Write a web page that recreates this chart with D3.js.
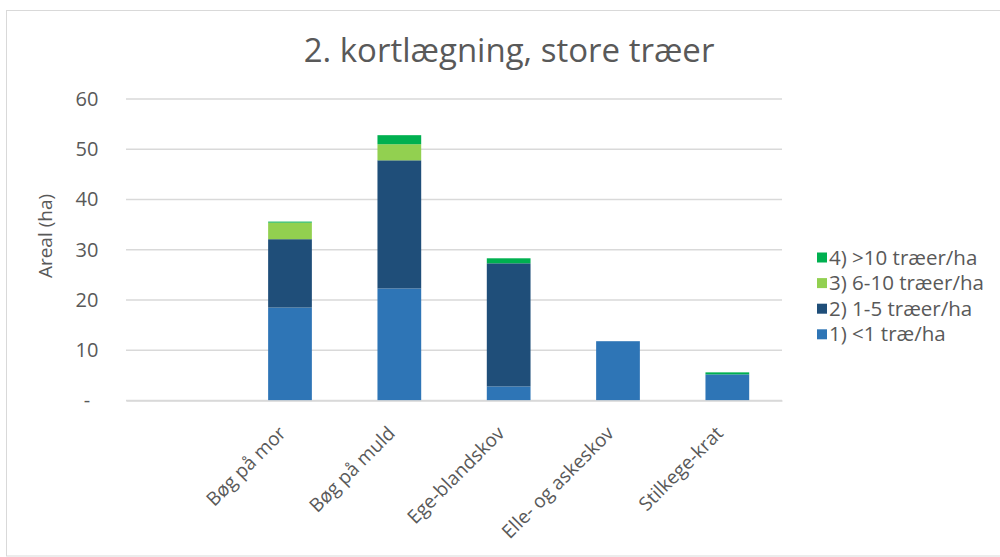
<!DOCTYPE html>
<html lang="da">
<head>
<meta charset="utf-8">
<title>2. kortlægning, store træer</title>
<script src="https://cdn.jsdelivr.net/npm/d3@7"></script>
<style>
  body { margin: 0; background: #fff; }
  text { font-family: "Open Sans", sans-serif; fill: #595959; }
</style>
</head>
<body>
<script>
// data
var categories = ["", "Bøg på mor", "Bøg på muld", "Ege-blandskov", "Elle- og askeskov", "Stilkege-krat"];
var seriesNames = ["1) <1 træ/ha", "2) 1-5 træer/ha", "3) 6-10 træer/ha", "4) >10 træer/ha"];
var s1 = [0, 18.5, 22.3, 2.8, 11.8, 5.2];
var s2 = [0, 13.6, 25.5, 24.5, 0, 0];
var s3 = [0, 3.3, 3.2, 0, 0, 0];
var s4 = [0, 0.2, 1.8, 1.0, 0, 0.4];
var yTicks = [0, 10, 20, 30, 40, 50, 60];
var colors = ["#2e75b6", "#1f4e79", "#92d050", "#00b050"];

var W = 1000, H = 557;
var svg = d3.select("body").append("svg")
    .attr("width", W)
    .attr("height", H);

// chart border
svg.append("rect")
   .attr("x", 6.5).attr("y", 10.5)
   .attr("width", 1000).attr("height", 545.5)
   .attr("fill", "none")
   .attr("stroke", "#d9d9d9")
   .attr("stroke-width", 1);

var pLeft = 126, pRight = 782, pTop = 99, pBottom = 400.5;

var x = d3.scaleBand().domain(d3.range(categories.length))
    .range([pLeft, pRight])
    .paddingInner(0.6).paddingOuter(0.3);
var y = d3.scaleLinear().domain([0, 60]).range([pBottom, pTop]);

// gridlines
svg.append("g").selectAll("line")
   .data(yTicks)
   .enter().append("line")
   .attr("x1", pLeft).attr("x2", pRight)
   .attr("y1", function(d) { return y(d); })
   .attr("y2", function(d) { return y(d); })
   .attr("stroke", "#d9d9d9")
   .attr("stroke-width", 1.5);

// y axis labels
var yAxis = d3.axisLeft(y).tickValues(yTicks).tickSize(0).tickPadding(0)
    .tickFormat(function(d) { return d === 0 ? "-" : d; });
var gy = svg.append("g").attr("transform", "translate(" + pLeft + ",0)").call(yAxis);
gy.select(".domain").remove();
gy.selectAll("text")
  .attr("font-size", 20)
  .attr("font-family", "Open Sans, sans-serif")
  .attr("fill", "#595959")
  .attr("text-anchor", "middle")
  .attr("x", -(pLeft - 87));

// stacked bars
var rows = categories.map(function(c, i) {
  return { i: i, a: s1[i], b: s2[i], c: s3[i], d: s4[i] };
});
var stack = d3.stack().keys(["a", "b", "c", "d"]);
var layers = stack(rows);

svg.append("g").selectAll("g")
   .data(layers)
   .enter().append("g")
   .attr("fill", function(d, k) { return colors[k]; })
   .selectAll("rect")
   .data(function(d) { return d; })
   .enter().append("rect")
   .attr("x", function(d) { return x(d.data.i); })
   .attr("width", x.bandwidth())
   .attr("y", function(d) { return y(d[1]); })
   .attr("height", function(d) { return y(d[0]) - y(d[1]); });

// x axis
var xAxis = d3.axisBottom(x).tickSize(0).tickPadding(0)
    .tickFormat(function(i) { return categories[i]; });
var gx = svg.append("g").attr("transform", "translate(0," + pBottom + ")").call(xAxis);
gx.select(".domain").attr("stroke", "#d9d9d9").attr("stroke-width", 1.5);
gx.selectAll("text")
  .attr("font-size", 19)
  .attr("font-family", "Open Sans, sans-serif")
  .attr("fill", "#595959")
  .attr("text-anchor", "end")
  .attr("dy", 0)
  .attr("y", 0)
  .attr("transform", "translate(-3,34) rotate(-45)");

// title
svg.append("text")
   .attr("x", 509).attr("y", 62)
   .attr("text-anchor", "middle")
   .attr("font-size", 33)
   .text("2. kortlægning, store træer");

// y title
svg.append("text")
   .attr("transform", "translate(52,236) rotate(-90)")
   .attr("text-anchor", "middle")
   .attr("font-size", 19)
   .text("Areal (ha)");

// legend, reversed order
var legend = svg.append("g").selectAll("g")
   .data(d3.range(seriesNames.length).reverse())
   .enter().append("g")
   .attr("transform", function(k, j) { return "translate(817," + (257.5 + j * 25.6) + ")"; });
legend.append("rect")
   .attr("x", 0).attr("y", -5)
   .attr("width", 10).attr("height", 10)
   .attr("fill", function(k) { return colors[k]; });
legend.append("text")
   .attr("x", 12).attr("y", 0).attr("dy", "0.35em")
   .attr("font-size", 20.5)
   .text(function(k) { return seriesNames[k]; });
</script>
</body>
</html>
